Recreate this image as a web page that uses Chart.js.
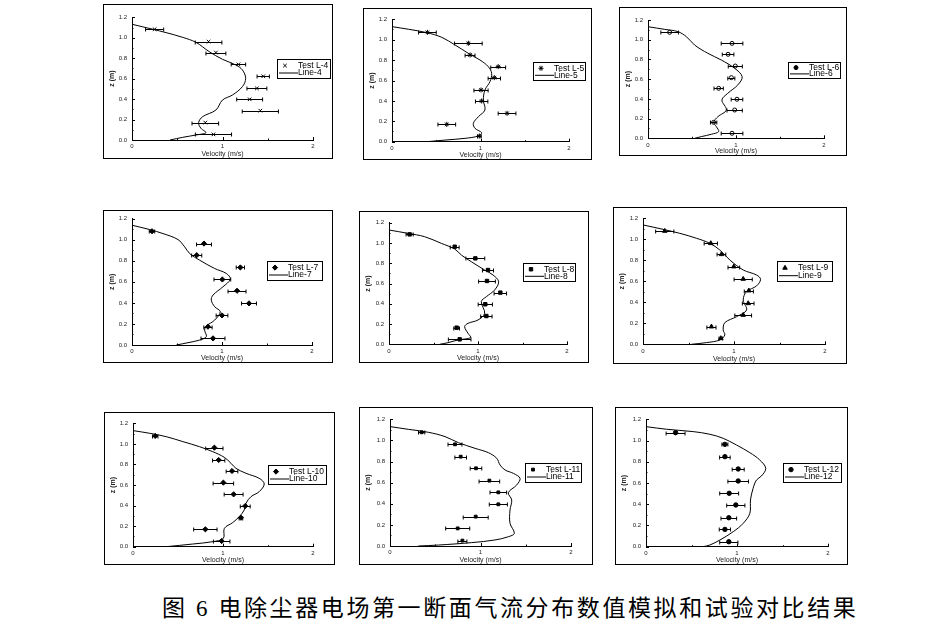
<!DOCTYPE html>
<html>
<head>
<meta charset="utf-8">
<script src="https://cdn.jsdelivr.net/npm/chart.js@4.4.0/dist/chart.umd.min.js"></script>
<style>
  body { margin: 0; background: #fff; width: 943px; height: 639px; position: relative; overflow: hidden; }
  .panel { position: absolute; box-sizing: border-box; border: 1px solid #000; }
  .panel canvas { position: absolute; left: -1px; top: -1px; }
  #caption {
    position: absolute; left: 162px; top: 597px; line-height: 24px; white-space: nowrap;
    font-family: "Liberation Serif", "Noto Sans CJK SC", serif; font-size: 23px; letter-spacing: 2.6px; color: #000;
  }
</style>
</head>
<body>
<div id="caption">图 6 电除尘器电场第一断面气流分布数值模拟和试验对比结果</div>
<script>
// ---- data: velocity (m/s) against height z (m) ----
const xTickValues = [0, 1, 2];
const zTickValues = [0, 0.2, 0.4, 0.6, 0.8, 1.0, 1.2];

// L-4
const lineX4 = [0, 0.23, 0.377, 0.56, 0.707, 0.853, 1.0, 1.146, 1.22, 1.256, 1.22, 1.11, 1.0, 0.927, 0.78, 0.736, 0.762, 0.817, 0.707, 0.56, 0.42];
const lineZ4 = [1.132, 1.083, 1.05, 1.004, 0.955, 0.864, 0.789, 0.734, 0.685, 0.603, 0.522, 0.44, 0.391, 0.293, 0.228, 0.17, 0.114, 0.072, 0.049, 0.026, 0];
const testX4 = [0.25, 0.846, 0.927, 1.176, 1.45, 1.38, 1.30, 1.418, 0.81, 0.90];
const testZ4 = [1.083, 0.962, 0.855, 0.74, 0.623, 0.505, 0.398, 0.287, 0.17, 0.055];
const testErr4 = [0.1, 0.147, 0.11, 0.08, 0.068, 0.11, 0.143, 0.2, 0.147, 0.2];

// L-5
const lineX5 = [0, 0.188, 0.394, 0.563, 0.713, 0.863, 0.994, 1.088, 1.126, 1.107, 1.05, 1.032, 1.05, 0.976, 0.919, 0.938, 1.013, 0.976, 0.826, 0.6, 0.394];
const lineZ5 = [1.128, 1.102, 1.069, 1.023, 0.948, 0.866, 0.801, 0.736, 0.67, 0.589, 0.507, 0.409, 0.311, 0.245, 0.18, 0.131, 0.088, 0.056, 0.033, 0.016, 0];
const testX5 = [0.40, 0.863, 0.882, 1.2, 1.156, 1.006, 1.013, 1.30, 0.619, 0.987];
const testZ5 = [1.072, 0.965, 0.85, 0.736, 0.628, 0.507, 0.399, 0.278, 0.17, 0.056];
const testErr5 = [0.1, 0.156, 0.056, 0.084, 0.07, 0.08, 0.07, 0.1, 0.1, 0.02];

// L-6
const lineX6 = [0, 0.19, 0.34, 0.436, 0.53, 0.68, 0.833, 0.985, 1.07, 1.02, 0.906, 0.84, 0.89, 0.795, 0.746, 0.777, 0.803, 0.72, 0.606, 0.53];
const lineZ6 = [1.132, 1.105, 1.082, 1.031, 0.946, 0.862, 0.794, 0.71, 0.625, 0.541, 0.456, 0.389, 0.287, 0.22, 0.162, 0.118, 0.068, 0.041, 0.017, 0];
const testX6 = [0.246, 0.955, 0.91, 0.992, 0.947, 0.803, 1.011, 0.985, 0.746, 0.955];
const testZ6 = [1.075, 0.963, 0.852, 0.733, 0.615, 0.507, 0.396, 0.287, 0.162, 0.051];
const testErr6 = [0.1, 0.123, 0.066, 0.08, 0.04, 0.053, 0.066, 0.087, 0.036, 0.123];

// L-7
const lineX7 = [0, 0.196, 0.344, 0.511, 0.585, 0.641, 0.752, 0.919, 1.048, 1.093, 1.011, 0.9, 0.881, 0.919, 0.981, 0.919, 0.826, 0.807, 0.826, 0.752, 0.622, 0.493];
const lineZ7 = [1.137, 1.096, 1.058, 1.001, 0.932, 0.868, 0.805, 0.726, 0.679, 0.625, 0.553, 0.474, 0.426, 0.363, 0.316, 0.237, 0.18, 0.142, 0.079, 0.047, 0.022, 0];
const testX7 = [0.222, 0.8, 0.719, 1.204, 1.004, 1.167, 1.3, 1.0, 0.844, 0.9];
const testZ7 = [1.08, 0.963, 0.853, 0.736, 0.622, 0.515, 0.395, 0.281, 0.174, 0.063];
const testErr7 = [0.03, 0.083, 0.056, 0.046, 0.093, 0.1, 0.083, 0.065, 0.046, 0.133];

// L-8
const lineX8 = [0, 0.213, 0.40, 0.588, 0.738, 0.813, 0.925, 1.075, 1.169, 1.232, 1.187, 1.094, 1.037, 1.075, 1.0, 0.888, 0.85, 0.888, 0.918, 0.775, 0.663, 0.569];
const lineZ8 = [1.128, 1.095, 1.062, 0.996, 0.94, 0.881, 0.815, 0.733, 0.684, 0.618, 0.536, 0.47, 0.421, 0.306, 0.24, 0.207, 0.174, 0.108, 0.066, 0.043, 0.016, 0];
const testX8 = [0.232, 0.738, 0.97, 1.112, 1.101, 1.251, 1.082, 1.094, 0.76, 0.794];
const testZ8 = [1.085, 0.963, 0.848, 0.733, 0.625, 0.51, 0.395, 0.279, 0.164, 0.049];
const testErr8 = [0.04, 0.05, 0.106, 0.062, 0.094, 0.07, 0.08, 0.064, 0.032, 0.127];

// L-9
const lineX9 = [0, 0.22, 0.404, 0.587, 0.734, 0.844, 0.954, 1.101, 1.248, 1.292, 1.248, 1.138, 1.101, 1.138, 1.028, 0.899, 0.881, 0.899, 0.844, 0.697, 0.532];
const lineZ9 = [1.137, 1.095, 1.057, 1.01, 0.962, 0.898, 0.803, 0.708, 0.66, 0.619, 0.556, 0.502, 0.422, 0.327, 0.263, 0.206, 0.137, 0.089, 0.041, 0.016, 0];
const testX9 = [0.239, 0.745, 0.862, 0.998, 1.101, 1.163, 1.156, 1.101, 0.752, 0.855];
const testZ9 = [1.079, 0.962, 0.857, 0.74, 0.622, 0.511, 0.39, 0.279, 0.168, 0.057];
const testErr9 = [0.1, 0.073, 0.048, 0.064, 0.1, 0.05, 0.064, 0.092, 0.05, 0.02];

// L-10
const lineX10 = [0, 0.185, 0.369, 0.554, 0.738, 0.886, 1.015, 1.089, 1.144, 1.255, 1.402, 1.458, 1.402, 1.31, 1.255, 1.236, 1.181, 1.107, 1.015, 1.004, 0.886, 0.664, 0.369];
const lineZ10 = [1.129, 1.103, 1.07, 1.022, 0.973, 0.924, 0.869, 0.811, 0.762, 0.714, 0.665, 0.61, 0.535, 0.486, 0.422, 0.357, 0.292, 0.234, 0.178, 0.081, 0.049, 0.026, 0];
const testX10 = [0.247, 0.904, 0.952, 1.1, 1.004, 1.118, 1.247, 1.199, 0.804, 0.985];
const testZ10 = [1.077, 0.963, 0.843, 0.736, 0.623, 0.509, 0.396, 0.282, 0.169, 0.055];
const testErr10 = [0.03, 0.096, 0.068, 0.065, 0.114, 0.105, 0.055, 0.02, 0.13, 0.092];

// L-11
const lineX11 = [0, 0.203, 0.424, 0.608, 0.755, 0.94, 1.087, 1.179, 1.216, 1.271, 1.363, 1.437, 1.4, 1.308, 1.345, 1.326, 1.326, 1.374, 1.308, 1.16, 0.902, 0.534, 0.313];
const lineZ11 = [1.131, 1.105, 1.077, 1.036, 0.979, 0.925, 0.884, 0.831, 0.767, 0.72, 0.688, 0.641, 0.578, 0.505, 0.436, 0.341, 0.215, 0.12, 0.088, 0.057, 0.032, 0.009, 0];
const testX11 = [0.35, 0.718, 0.781, 0.95, 1.098, 1.197, 1.197, 0.947, 0.748, 0.8];
const testZ11 = [1.077, 0.963, 0.846, 0.736, 0.619, 0.508, 0.395, 0.278, 0.167, 0.051];
const testErr11 = [0.035, 0.077, 0.064, 0.064, 0.114, 0.092, 0.1, 0.138, 0.133, 0.05];

// L-12
const lineX12 = [0, 0.227, 0.519, 0.702, 0.848, 0.994, 1.141, 1.25, 1.316, 1.269, 1.214, 1.177, 1.148, 1.141, 1.068, 0.958, 0.812, 0.702, 0.629];
const lineZ12 = [1.131, 1.106, 1.084, 1.059, 1.021, 0.958, 0.886, 0.817, 0.738, 0.666, 0.628, 0.55, 0.44, 0.314, 0.22, 0.141, 0.063, 0.016, 0];
const testX12 = [0.325, 0.867, 0.867, 1.013, 1.013, 0.914, 0.987, 0.91, 0.867, 0.91];
const testZ12 = [1.074, 0.964, 0.848, 0.732, 0.619, 0.503, 0.393, 0.273, 0.163, 0.047];
const testErr12 = [0.104, 0.033, 0.058, 0.066, 0.113, 0.104, 0.1, 0.086, 0.062, 0.1];

const seriesData = {
  4: [lineX4, lineZ4, testX4, testZ4, testErr4],
  5: [lineX5, lineZ5, testX5, testZ5, testErr5],
  6: [lineX6, lineZ6, testX6, testZ6, testErr6],
  7: [lineX7, lineZ7, testX7, testZ7, testErr7],
  8: [lineX8, lineZ8, testX8, testZ8, testErr8],
  9: [lineX9, lineZ9, testX9, testZ9, testErr9],
  10: [lineX10, lineZ10, testX10, testZ10, testErr10],
  11: [lineX11, lineZ11, testX11, testZ11, testErr11],
  12: [lineX12, lineZ12, testX12, testZ12, testErr12]
};

// ---- page layout (pixels): frame box, plot area edges, legend box ----
// frame: [left, top, right, bottom]; plot: [x at 0, x at 2, y at 0, y at 1.2]
const panels = [
  { n: 4,  frame: [103, 4, 333, 159],   plot: [132, 313, 140, 17.3],  legend: [277, 59, 331, 79],   marker: 'crossRot', fill: false, r: 2.5 },
  { n: 5,  frame: [363, 8, 592, 160],   plot: [392, 569, 141.7, 19.3], legend: [533, 62, 586, 81],  marker: 'star',     fill: false, r: 2.5 },
  { n: 6,  frame: [619, 7, 847, 156],   plot: [648, 824, 138.3, 20],  legend: [788, 62, 841, 79],   marker: 'circle',   fill: false, r: 2 },
  { n: 7,  frame: [103, 210, 333, 363], plot: [132, 312, 345, 218.3], legend: [267, 261, 323, 281], marker: 'rectRot',  fill: true,  r: 2.6 },
  { n: 8,  frame: [359, 211, 589, 363], plot: [389, 567, 344.3, 222.7], legend: [523, 263, 576, 282], marker: 'rect',   fill: true,  r: 2.4 },
  { n: 9,  frame: [613, 207, 847, 364], plot: [643, 825, 344.3, 218.3], legend: [777, 261, 833, 282], marker: 'triangle', fill: true, r: 2.6 },
  { n: 10, frame: [104, 412, 335, 565], plot: [133, 313, 546.7, 423.3], legend: [268, 465, 327, 485], marker: 'rectRot', fill: true, r: 2.6 },
  { n: 11, frame: [359, 407, 593, 565], plot: [390, 571, 546, 419.3], legend: [525, 463, 582, 483], marker: 'rect',     fill: true,  r: 2 },
  { n: 12, frame: [615, 407, 848, 565], plot: [646, 828, 546.7, 419.3], legend: [783, 463, 842, 483], marker: 'circle', fill: true,  r: 2.2 }
];

const FONT = '"Liberation Sans", Arial, sans-serif';

// inward tick marks + minor ticks, as in the Origin plots
const innerTicks = {
  id: 'innerTicks',
  afterDraw(chart) {
    const { ctx, scales: { x, y } } = chart;
    const x0 = x.getPixelForValue(0), y0 = y.getPixelForValue(0);
    ctx.save();
    ctx.strokeStyle = '#000';
    ctx.lineWidth = 1;
    ctx.beginPath();
    zTickValues.forEach(v => {
      const py = Math.round(y.getPixelForValue(v)) + 0.5;
      ctx.moveTo(x0, py); ctx.lineTo(x0 + 3, py);
      if (v < 1.2) {
        const pm = Math.round(y.getPixelForValue(v + 0.1)) + 0.5;
        ctx.moveTo(x0, pm); ctx.lineTo(x0 + 1.5, pm);
      }
    });
    xTickValues.forEach(v => {
      const px = Math.round(x.getPixelForValue(v)) + 0.5;
      ctx.moveTo(px, y0); ctx.lineTo(px, y0 - 3);
      if (v < 2) {
        const pm = Math.round(x.getPixelForValue(v + 0.5)) + 0.5;
        ctx.moveTo(pm, y0); ctx.lineTo(pm, y0 - 1.5);
      }
    });
    ctx.stroke();
    ctx.restore();
  }
};

// horizontal error bars on the test points
const xErrorBars = {
  id: 'xErrorBars',
  afterDatasetsDraw(chart) {
    const { ctx, scales: { x, y } } = chart;
    chart.data.datasets.forEach(ds => {
      if (!ds.xErr) return;
      ctx.save();
      ctx.strokeStyle = '#000';
      ctx.lineWidth = 1;
      ctx.beginPath();
      ds.data.forEach((p, i) => {
        const e = ds.xErr[i];
        const a = x.getPixelForValue(p.x - e), b = x.getPixelForValue(p.x + e);
        const py = Math.round(y.getPixelForValue(p.y)) + 0.5;
        ctx.moveTo(a, py); ctx.lineTo(b, py);
        ctx.moveTo(a, py - 2); ctx.lineTo(a, py + 2);
        ctx.moveTo(b, py - 2); ctx.lineTo(b, py + 2);
      });
      ctx.stroke();
      ctx.restore();
    });
  }
};

// boxed legend like the original
const boxLegend = {
  id: 'boxLegend',
  afterDraw(chart, args, opts) {
    const { ctx } = chart;
    const [l, t, r, b] = opts.box;
    const h = b - t;
    const pts = chart.data.datasets[1], line = chart.data.datasets[0];
    ctx.save();
    ctx.strokeStyle = '#000';
    ctx.lineWidth = 1;
    ctx.strokeRect(l + 0.5, t + 0.5, r - l - 1, h - 1);
    ctx.font = '8.5px ' + FONT;
    ctx.fillStyle = '#000';
    ctx.textBaseline = 'middle';
    const row1 = t + h * 0.33, row2 = t + h * 0.7;
    Chart.helpers.drawPoint(ctx, {
      pointStyle: pts.pointStyle, radius: pts.pointRadius, rotation: 0, borderWidth: 1
    }, l + 8, row1);
    ctx.fillText(pts.label, l + 21, row1);
    ctx.beginPath();
    ctx.moveTo(l + 2, row2); ctx.lineTo(l + 21, row2);
    ctx.stroke();
    ctx.fillText(line.label, l + 21, row2);
    ctx.restore();
  }
};

panels.forEach(p => {
  const [L, T, R, B] = p.frame;
  const [px0, px2, py0, py12] = p.plot;
  const [lineX, lineZ, testX, testZ, testErr] = seriesData[p.n];

  const wrap = document.createElement('div');
  wrap.className = 'panel';
  wrap.style.left = L + 'px';
  wrap.style.top = T + 'px';
  wrap.style.width = (R - L) + 'px';
  wrap.style.height = (B - T) + 'px';
  const canvas = document.createElement('canvas');
  canvas.width = R - L;
  canvas.height = B - T;
  wrap.appendChild(canvas);
  document.body.appendChild(wrap);

  const leftW = px0 - L, bottomH = B - py0;
  const config = {
    type: 'scatter',
    data: {
      datasets: [
        {
          label: 'Line-' + p.n,
          data: lineX.map((v, i) => ({ x: v, y: lineZ[i] })),
          showLine: true,
          borderColor: '#000',
          borderWidth: 1,
          pointRadius: 0,
          tension: 0.35,
          fill: false
        },
        {
          label: 'Test L-' + p.n,
          data: testX.map((v, i) => ({ x: v, y: testZ[i] })),
          xErr: testErr,
          showLine: false,
          pointStyle: p.marker,
          pointRadius: p.r,
          borderColor: '#000',
          backgroundColor: p.fill ? '#000' : '#fff',
          borderWidth: 1
        }
      ]
    },
    options: {
      responsive: false,
      animation: false,
      devicePixelRatio: window.devicePixelRatio || 1,
      layout: { padding: { left: 0, bottom: 0, top: py12 - T, right: R - px2 } },
      plugins: {
        legend: { display: false },
        tooltip: { enabled: false },
        boxLegend: { box: [p.legend[0] - L, p.legend[1] - T, p.legend[2] - L, p.legend[3] - T] }
      },
      scales: {
        x: {
          type: 'linear', min: 0, max: 2,
          grid: { display: false, drawTicks: false },
          border: { display: true, color: '#000', width: 1 },
          afterBuildTicks: s => { s.ticks = xTickValues.map(v => ({ value: v })); },
          ticks: { autoSkip: false, maxRotation: 0, padding: 3, color: '#222', font: { family: FONT, size: 6 },
                   callback: v => String(v) },
          title: { display: true, text: 'Velocity (m/s)', color: '#222', font: { family: FONT, size: 7 },
                   padding: { top: 0, bottom: 1 } },
          afterFit: s => { s.height = bottomH; }
        },
        y: {
          type: 'linear', min: 0, max: 1.2,
          grid: { display: false, drawTicks: false },
          border: { display: true, color: '#000', width: 1 },
          afterBuildTicks: s => { s.ticks = zTickValues.map(v => ({ value: v })); },
          ticks: { autoSkip: false, padding: 5, color: '#222', font: { family: FONT, size: 6 },
                   callback: v => Number(v).toFixed(1) },
          title: { display: true, text: 'z (m)', color: '#222', font: { family: FONT, size: 7, weight: 'bold' },
                   padding: { top: 4.5, bottom: 0 } },
          afterFit: s => { s.width = leftW; }
        }
      }
    },
    plugins: [xErrorBars, innerTicks, boxLegend]
  };
  new Chart(canvas.getContext('2d'), config);
});
</script>
</body>
</html>
